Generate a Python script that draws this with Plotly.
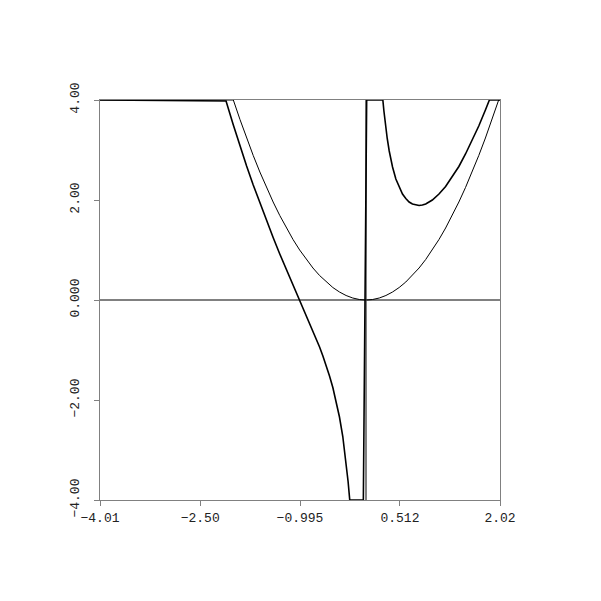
import plotly.graph_objects as go

# Thin curve (parabola), clipped to [-4, 4]
thin_x = [-4.01, -2.0, -1.9, -1.8, -1.7, -1.6, -1.5, -1.4, -1.3, -1.2, -1.1, -1.0, -0.9, -0.8, -0.7,
          -0.6, -0.5, -0.4, -0.3, -0.2, -0.1, 0.0, 0.1, 0.2, 0.3, 0.4, 0.5, 0.6, 0.7, 0.8, 0.9,
          1.0, 1.1, 1.2, 1.3, 1.4, 1.5, 1.6, 1.7, 1.8, 1.9, 2.0, 2.02]
thin_y = [4.0, 4.0, 3.61, 3.24, 2.89, 2.56, 2.25, 1.96, 1.69, 1.44, 1.21, 1.0, 0.81, 0.64, 0.49,
          0.36, 0.25, 0.16, 0.09, 0.04, 0.01, 0.0, 0.01, 0.04, 0.09, 0.16, 0.25, 0.36, 0.49, 0.64, 0.81,
          1.0, 1.21, 1.44, 1.69, 1.96, 2.25, 2.56, 2.89, 3.24, 3.61, 4.0, 4.0]

# Thick curve, values, clipped to [-4, 4]
thick_x = [-4.01, -2.11, -2.0, -1.9, -1.8, -1.7, -1.6, -1.5, -1.4, -1.3, -1.2, -1.1, -1.05, -1.0,
           -0.95, -0.9, -0.85, -0.8, -0.75, -0.7, -0.65, -0.6, -0.55, -0.5, -0.45, -0.4, -0.35,
           -0.3, -0.27, -0.245, -0.04,
           0.01, 0.254, 0.27, 0.3, 0.32, 0.35, 0.375, 0.4, 0.45, 0.5, 0.55, 0.6, 0.65, 0.7, 0.75,
           0.8, 0.85, 0.9, 1.0, 1.1, 1.2, 1.3, 1.4, 1.5, 1.6, 1.7, 1.8, 1.86, 2.02]
thick_y = [4.0, 3.98, 3.5, 3.08, 2.68, 2.30, 1.94, 1.58, 1.25, 0.92, 0.61, 0.30, 0.15, 0.0,
           -0.15, -0.30, -0.45, -0.61, -0.77, -0.94, -1.12, -1.31, -1.52, -1.75, -2.02, -2.34, -2.73,
           -3.24, -3.63, -4.0, -4.0,
           4.0, 4.0, 3.78, 3.42, 3.23, 2.98, 2.81, 2.66, 2.42, 2.25, 2.12, 2.03, 1.96, 1.92, 1.90,
           1.89, 1.90, 1.92, 2.0, 2.12, 2.27, 2.46, 2.67, 2.92, 3.19, 3.48, 3.80, 4.0, 4.0]

x_tick_vals = [-4.01, -2.5, -0.995, 0.512, 2.02]
x_tick_text = ["\u22124.01", "\u22122.50", "\u22120.995", "0.512", "2.02"]
y_tick_vals = [4.0, 2.0, 0.0, -2.0, -4.0]
y_tick_text = ["4.00", "2.00", "0.000", "\u22122.00", "\u22124.00"]

fig = go.Figure()
fig.add_trace(go.Scatter(x=thin_x, y=thin_y, mode="lines",
                         line=dict(color="black", width=1.0), cliponaxis=False))
fig.add_trace(go.Scatter(x=thick_x, y=thick_y, mode="lines",
                         line=dict(color="black", width=1.6), cliponaxis=False))

axis_common = dict(showgrid=False, showline=True, mirror=True, linecolor="#808080", linewidth=1,
                   ticks="outside", ticklen=5, tickcolor="#808080", tickwidth=1,
                   zeroline=True, zerolinecolor="#808080", zerolinewidth=1.5,
                   tickfont=dict(family="Liberation Mono", size=13, color="#222222"))

fig.update_layout(
    width=601, height=601,
    margin=dict(l=92, r=109, t=92, b=109),
    paper_bgcolor="white", plot_bgcolor="white",
    showlegend=False,
    xaxis=dict(range=[-4.01, 2.02], tickvals=x_tick_vals, ticktext=x_tick_text, **axis_common),
    yaxis=dict(range=[-4, 4], tickvals=y_tick_vals, ticktext=y_tick_text, tickangle=-90,
               ticklabelstandoff=10, **axis_common),
)

fig.write_html("out.html")
